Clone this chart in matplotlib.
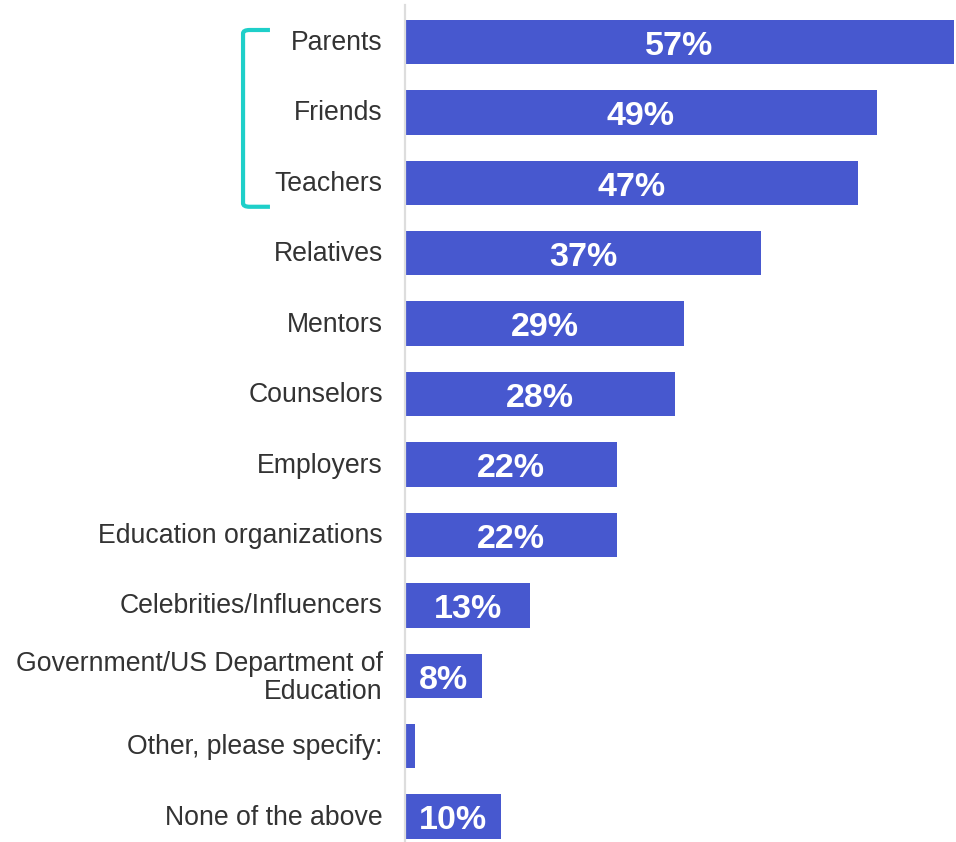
import matplotlib.pyplot as plt
from matplotlib.path import Path
from matplotlib.patches import PathPatch
import matplotlib.transforms as mtransforms

plt.rcParams['font.family'] = ['Liberation Sans', 'DejaVu Sans']

categories = ['Parents', 'Friends', 'Teachers', 'Relatives', 'Mentors',
              'Counselors', 'Employers', 'Education organizations',
              'Celebrities/Influencers',
              'Government/US Department of\nEducation',
              'Other, please specify:', 'None of the above']
values = [57, 49, 47, 37, 29, 28, 22, 22, 13, 8, 1, 10]
value_labels = ['57%', '49%', '47%', '37%', '29%', '28%', '22%', '22%',
                '13%', '8%', '', '10%']

bar_color = '#4758CF'
bracket_color = '#1ECFC9'
text_color = '#333333'

fig = plt.figure(figsize=(9.56, 8.42), dpi=100)
ax = fig.add_axes([405 / 956, 0, 549 / 956, 1 - 5 / 842])

y = list(range(len(categories)))
ax.barh(y, values, height=0.63, color=bar_color)

for yi, v, lab in zip(y, values, value_labels):
    if lab:
        ax.text(v / 2, yi + 0.06, lab, ha='center', va='center',
                color='white', fontsize=24.5, fontweight='bold')

ax.set_xlim(0, 57)
ax.set_ylim(11.36, -0.525)
ax.set_yticks(y)
ax.set_yticklabels(categories, fontsize=19.2, color=text_color, linespacing=1.1)
ax.tick_params(axis='y', length=0, pad=16)
ax.set_xticks([])

# nudge category labels up a little
shift = mtransforms.ScaledTranslation(0, 2 / 100, fig.dpi_scale_trans)
for lbl in ax.get_yticklabels():
    lbl.set_transform(lbl.get_transform() + shift)

for s in ['top', 'right', 'bottom']:
    ax.spines[s].set_visible(False)
ax.spines['left'].set_color('#dddddd')
ax.spines['left'].set_linewidth(1.6)

# bracket around the top three categories
trans = mtransforms.blended_transform_factory(ax.transAxes, ax.transData)
x0, x1, r = -0.295, -0.246, 0.012
y0, y1, ry = -0.17, 2.34, 0.05
verts = [(x1, y0), (x0 + r, y0), (x0, y0), (x0, y0 + ry),
         (x0, y1 - ry), (x0, y1), (x0 + r, y1), (x1, y1)]
codes = [Path.MOVETO, Path.LINETO, Path.CURVE3, Path.CURVE3,
         Path.LINETO, Path.CURVE3, Path.CURVE3, Path.LINETO]
bracket = PathPatch(Path(verts, codes), transform=trans, fill=False,
                    edgecolor=bracket_color, linewidth=3, clip_on=False)
ax.add_patch(bracket)

fig.savefig('out.png', dpi=100)
